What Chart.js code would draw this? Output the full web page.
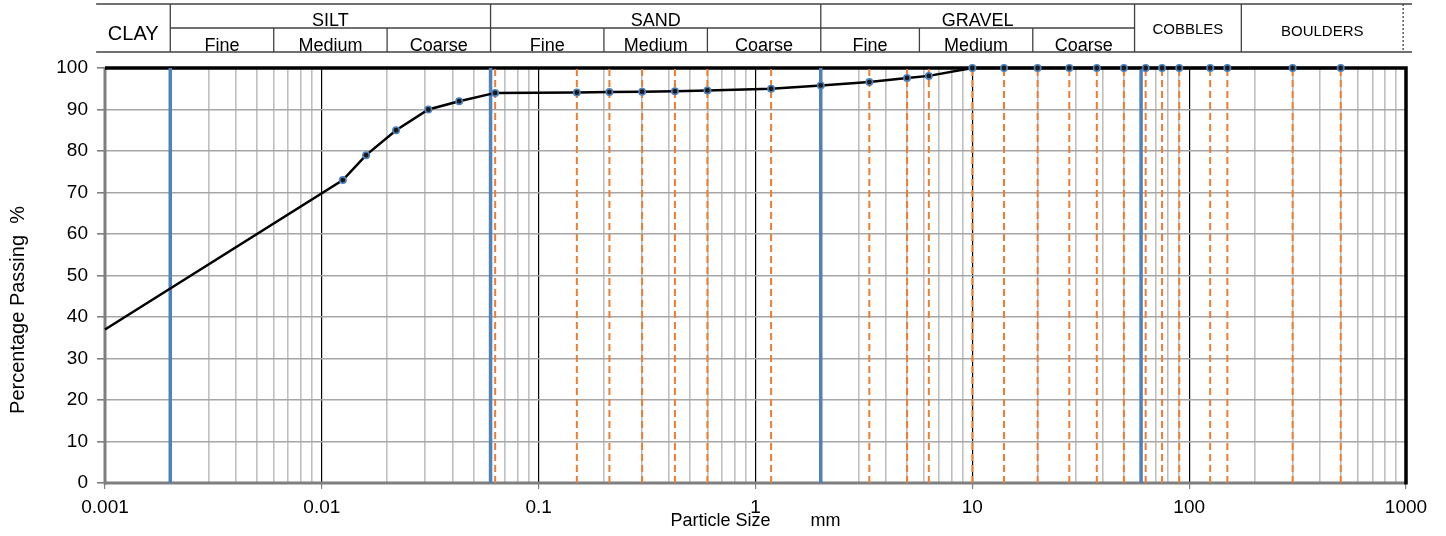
<!DOCTYPE html>
<html><head><meta charset="utf-8">
<script src="https://cdn.jsdelivr.net/npm/chart.js@4/dist/chart.umd.min.js"></script>
<style>html,body{margin:0;padding:0;background:#fff;}#wrap{width:1446px;height:536px;position:relative;}</style>
</head><body><div id="wrap"><canvas id="c"></canvas></div>
<script>
// ---- data ----
const particleSize = [0.001, 0.0125, 0.016, 0.022, 0.031, 0.043, 0.063, 0.15, 0.212, 0.3, 0.425, 0.6, 1.18, 2, 3.35, 5, 6.3, 10, 14, 20, 28, 37.5, 50, 63, 75, 90, 125, 150, 300, 500];
const percentPassing = [37, 73, 79, 85, 90, 92, 94, 94.1, 94.2, 94.3, 94.4, 94.6, 95.0, 95.8, 96.6, 97.6, 98.1, 100, 100, 100, 100, 100, 100, 100, 100, 100, 100, 100, 100, 100];
const sieveSizes = [0.063, 0.15, 0.212, 0.3, 0.425, 0.6, 1.18, 2, 3.35, 5, 6.3, 10, 14, 20, 28, 37.5, 50, 63, 75, 90, 125, 150, 300, 500];
const classBoundaries = [0.002, 0.06, 2, 60];
const xTickLabels = ['0.001', '0.01', '0.1', '1', '10', '100', '1000'];
const yTickValues = [0, 10, 20, 30, 40, 50, 60, 70, 80, 90, 100];
const headerGroups = ['CLAY', 'SILT', 'SAND', 'GRAVEL', 'COBBLES', 'BOULDERS'];
const headerEdges = [0.00091, 0.002, 0.06, 2, 56, 174, 970];
const headerSubLabels = ['Fine', 'Medium', 'Coarse'];
const siltSubEdges = [0.002, 0.006, 0.02, 0.06];
const sandSubEdges = [0.06, 0.2, 0.6, 2];
const gravelSubEdges = [2, 5.7, 19, 56];
const headerRightEnd = 1066;

// ---- helpers ----
const isDecade = v => Math.abs(Math.log10(v) - Math.round(Math.log10(v))) < 1e-9;
const FONT = "'Liberation Sans', Arial, sans-serif";

const datasets = [];
sieveSizes.forEach(s => datasets.push({
  data: [{x: s, y: 0}, {x: s, y: 100}],
  borderColor: '#ED7D31', borderWidth: 2, borderDash: [7, 4],
  pointRadius: 0, order: 3
}));
classBoundaries.forEach(b => datasets.push({
  data: [{x: b, y: 0}, {x: b, y: 100}],
  borderColor: '#4F81BD', borderWidth: 3.5,
  pointRadius: 0, order: 2
}));
datasets.push({
  data: particleSize.map((x, i) => ({x, y: percentPassing[i]})),
  borderColor: '#000', borderWidth: 2.5,
  pointRadius: particleSize.map((x, i) => i === 0 ? 0 : 3.2),
  pointBorderColor: '#4F81BD', pointBackgroundColor: '#1a1a1a', pointBorderWidth: 1.6,
  clip: false, order: 1
});

const frameAndHeader = {
  id: 'frameAndHeader',
  beforeDatasetsDraw(chart) {
    const {ctx, chartArea: a} = chart;
    ctx.save();
    ctx.lineCap = 'butt';
    ctx.strokeStyle = '#7f7f7f'; ctx.lineWidth = 3;
    ctx.beginPath(); ctx.moveTo(a.left, a.top); ctx.lineTo(a.left, a.bottom + 1.5); ctx.stroke();
    ctx.beginPath(); ctx.moveTo(a.left, a.bottom); ctx.lineTo(a.right, a.bottom); ctx.stroke();
    ctx.strokeStyle = '#000'; ctx.lineWidth = 3.5;
    ctx.beginPath(); ctx.moveTo(a.left, a.top); ctx.lineTo(a.right, a.top); ctx.lineTo(a.right, a.bottom + 1.5); ctx.stroke();
    ctx.restore();
  },
  afterDraw(chart) {
    const {ctx} = chart;
    const xs = chart.scales.x;
    const px = v => xs.getPixelForValue(v);
    const yTop = 4, yMid = 28, yBot = 52;
    ctx.save();
    ctx.strokeStyle = '#404040'; ctx.lineWidth = 1.3;
    const hline = (x1, x2, y) => { ctx.beginPath(); ctx.moveTo(x1, y); ctx.lineTo(x2, y); ctx.stroke(); };
    const vline = (x, y1, y2) => { ctx.beginPath(); ctx.moveTo(x, y1); ctx.lineTo(x, y2); ctx.stroke(); };
    hline(px(headerEdges[0]), px(headerRightEnd), yTop);
    hline(px(headerEdges[0]), px(headerRightEnd), yBot);
    hline(px(headerEdges[1]), px(headerEdges[4]), yMid);
    for (let i = 1; i <= 5; i++) vline(px(headerEdges[i]), yTop, yBot);
    [siltSubEdges, sandSubEdges, gravelSubEdges].forEach(e => { vline(px(e[1]), yMid, yBot); vline(px(e[2]), yMid, yBot); });
    ctx.setLineDash([2, 2]);
    vline(px(headerEdges[6]), yTop, yBot);
    ctx.setLineDash([]);
    ctx.fillStyle = '#000'; ctx.textAlign = 'center'; ctx.textBaseline = 'alphabetic';
    const mid = (a, b) => (px(a) + px(b)) / 2;
    ctx.font = `20px ${FONT}`;
    ctx.fillText(headerGroups[0], mid(headerEdges[0], headerEdges[1]), 40);
    ctx.font = `18px ${FONT}`;
    for (let i = 1; i <= 3; i++) ctx.fillText(headerGroups[i], mid(headerEdges[i], headerEdges[i + 1]), 25.5);
    [siltSubEdges, sandSubEdges, gravelSubEdges].forEach(e => {
      for (let j = 0; j < 3; j++) ctx.fillText(headerSubLabels[j], mid(e[j], e[j + 1]), 50.5);
    });
    ctx.font = `15px ${FONT}`;
    ctx.fillText(headerGroups[4], mid(headerEdges[4], headerEdges[5]), 34);
    ctx.fillText(headerGroups[5], mid(headerEdges[5], headerEdges[6]), 36);
    ctx.font = `18px ${FONT}`;
    ctx.textBaseline = 'middle';
    ctx.fillText('Particle Size        mm', (chart.chartArea.left + chart.chartArea.right) / 2, 521);
    ctx.translate(18, 310);
    ctx.rotate(-Math.PI / 2);
    ctx.font = `20px ${FONT}`;
    ctx.fillText('Percentage Passing  %', 0, 0);
    ctx.restore();
  }
};

new Chart(document.getElementById('c'), {
  type: 'line',
  data: {datasets},
  options: {
    responsive: true, maintainAspectRatio: false, animation: false,
    layout: {padding: {top: 68, right: 40, left: 0, bottom: 0}},
    plugins: {legend: {display: false}, tooltip: {enabled: false}},
    elements: {line: {tension: 0}},
    scales: {
      x: {
        type: 'logarithmic', min: 0.001, max: 1000,
        afterBuildTicks(scale) {
          const t = [];
          for (let e = -3; e < 3; e++) for (let m = 1; m <= 9; m++) t.push({value: m * Math.pow(10, e)});
          t.push({value: 1000});
          scale.ticks = t;
        },
        afterFit(scale) { scale.height = 53; },
        border: {display: false},
        grid: {
          color: c => { const v = c.tick.value; if (v <= 0.001 * 1.0001 || v >= 999.9) return 'rgba(0,0,0,0)'; return isDecade(v) ? '#000' : '#BFBFBF'; },
          lineWidth: c => isDecade(c.tick.value) ? 1.2 : 1.6,
          tickColor: c => isDecade(c.tick.value) ? '#808080' : 'rgba(0,0,0,0)',
          tickLength: 6, drawTicks: true
        },
        ticks: {
          autoSkip: false, maxRotation: 0, minRotation: 0, padding: 7,
          color: '#000', font: {family: FONT, size: 19},
          callback: (v) => { if (!isDecade(v)) return ''; const k = Math.round(Math.log10(v)) + 3; return xTickLabels[k] ?? ''; }
        }
      },
      y: {
        type: 'linear', min: 0, max: 100,
        afterBuildTicks(scale) { scale.ticks = yTickValues.map(v => ({value: v})); },
        afterFit(scale) { scale.width = 105; },
        border: {display: false},
        grid: {color: '#A6A6A6', lineWidth: 1.6, tickColor: '#808080', tickLength: 8},
        ticks: {padding: 9, color: '#000', font: {family: FONT, size: 19}}
      }
    }
  },
  plugins: [frameAndHeader]
});
</script></body></html>
